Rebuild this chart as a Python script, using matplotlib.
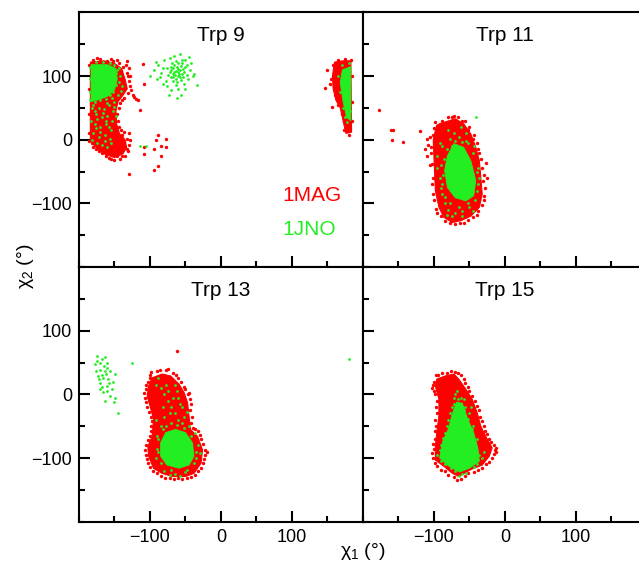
import matplotlib.pyplot as plt
from matplotlib.ticker import MultipleLocator

plt.rcParams['font.family'] = ['Liberation Sans', 'DejaVu Sans']

RED = '#ff0000'
GREEN = '#22ee22'

# ---- Trp 9 : chi1/chi2 outlines of the dense regions and the loose points ----
trp9_red_fill = [
    [(-184, 122), (-165, 124), (-150, 120), (-140, 112), (-135, 95), (-132, 80),
     (-138, 70), (-145, 60), (-148, 45), (-147, 25), (-143, 10), (-135, 0),
     (-133, -12), (-138, -22), (-150, -28), (-165, -22), (-178, -10), (-184, 0)],
    [(160, 122), (172, 124), (183, 124), (184, 12), (176, 10), (172, 30),
     (168, 50), (162, 62), (158, 80), (157, 100)],
]
trp9_red_pts = [
    (-186, 118), (-180, 126), (-170, 127), (-160, 124), (-152, 123), (-143, 120),
    (-138, 115), (-133, 105), (-130, 92), (-128, 85), (-131, 74), (-136, 66),
    (-142, 58), (-146, 40), (-144, 20), (-140, 8), (-133, 2), (-129, -8),
    (-131, -18), (-135, -25), (-142, -30), (-150, -32), (-158, -28), (-168, -20),
    (-176, -15), (-182, -5), (-186, 10), (-186, 40), (-186, 80), (-124, 70),
    (-120, 64), (-117, 62), (-110, 119), (-109, 88), (-123, 67), (-114, 46),
    (-128, -1), (-109, -11), (-109, -23), (-95, -14), (-85, -9), (-88, 8),
    (-78, 2), (-78, -12), (-84, -25), (-89, -41), (-95, -48), (-129, -54),
    (-92, -1),
    (-134, 118), (-131, 100), (-129, 112), (-136, 88), (-140, 95), (-127, 78),
    (-139, 62), (-143, 50), (-149, 35), (-145, 30), (-141, 15), (-137, -5),
    (-132, -14), (-139, -26), (-146, -25), (-155, -30), (-162, -25), (-172, -17),
    (-180, -12), (-186, -2), (-145, -20), (-128, 100), (-132, 124), (-175, 128),
    (-155, 127), (-147, 125), (-141, 108), (-144, 80), (-148, 70), (-150, 50),
    (-151, 28), (-148, 18), (-130, 10), (-137, 12),
    (146, 81), (156, 52), (150, 110), (155, 95), (158, 118), (165, 126),
    (175, 127), (183, 126), (185, 100), (185, 60), (185, 30), (180, 8),
    (174, 15), (170, 40), (165, 55), (160, 70), (154, 88),
]
trp9_green_fill = [
    [(-183, 118), (-160, 118), (-148, 112), (-146, 95), (-150, 78), (-160, 68),
     (-175, 62), (-183, 60)],
    [(171, 110), (183, 115), (183, 30), (177, 35), (172, 60), (168, 90)],
]
trp9_green_pts = [
    (-180, 55), (-172, 50), (-165, 48), (-158, 55), (-176, 40), (-168, 35),
    (-160, 38), (-152, 45), (-178, 25), (-170, 20), (-162, 25), (-155, 15),
    (-180, 10), (-172, 5), (-164, 8), (-157, 2), (-175, -5), (-150, 60),
    (-145, 70), (-142, 100), (-140, 85), (-168, -8), (-160, -12), (-154, 30),
    (-183, 30), (-148, 105), (-185, 115), (-114, -9), (-106, -10),
    (-150, 118), (-146, 110), (-144, 90), (-148, 86), (-152, 75), (-156, 70),
    (-162, 64), (-170, 62), (-178, 60), (-184, 62), (-184, 75), (-184, 95),
    (-176, 122), (-166, 122), (-156, 121), (-182, 50), (-178, 45), (-174, 32),
    (-166, 42), (-162, 30), (-158, 20), (-150, 52), (-148, 38), (-170, 12),
    (-176, 18), (-182, 0), (-164, -2), (-155, -5), (-160, 58), (-153, 65),
    (-143, 112), (-141, 76),
    # second rotamer around (-62, 105)
    (-70, 110), (-67, 112), (-64, 108), (-61, 106), (-58, 110), (-55, 104),
    (-60, 100), (-65, 102), (-68, 104), (-72, 106), (-62, 114), (-57, 116),
    (-66, 117), (-70, 115), (-54, 111), (-52, 107), (-58, 98), (-63, 96),
    (-68, 98), (-74, 101), (-60, 120), (-55, 120), (-50, 114), (-48, 102),
    (-76, 112), (-64, 124), (-69, 121), (-61, 111), (-59, 104), (-66, 107),
    (-71, 99), (-53, 99), (-56, 94), (-62, 91), (-67, 93),
    (-100, 100), (-95, 110), (-90, 95), (-88, 118), (-84, 105), (-82, 88),
    (-80, 125), (-78, 92), (-76, 85), (-72, 128), (-70, 78), (-66, 132),
    (-64, 86), (-60, 80), (-58, 135), (-55, 126), (-52, 88), (-50, 125),
    (-48, 118), (-46, 95), (-44, 110), (-42, 120), (-40, 100), (-38, 104),
    (-34, 86), (-86, 99), (-92, 122), (-73, 71), (-57, 70), (-62, 66),
    (-50, 80), (-45, 130), (-81, 113),
    (165, 100), (168, 75), (172, 50), (175, 35), (178, 28), (182, 45),
    (170, 118), (180, 120),
]

# ---- Trp 11 ----
trp11_red_fill = [
    [(-96, 23), (-84, 28), (-70, 33), (-58, 25), (-48, 9), (-41, -12),
     (-36, -33), (-34, -59), (-32, -85), (-36, -106), (-48, -120), (-62, -127),
     (-74, -130), (-86, -122), (-93, -106), (-98, -80), (-99, -54), (-100, -27),
     (-101, -1), (-98, 15)],
]
trp11_red_pts = [
    (-104, -20), (-106, -40), (-103, -70), (-100, -95), (-95, -115), (-85, -128),
    (-70, -133), (-58, -130), (-45, -122), (-38, -112), (-30, -95), (-28, -75),
    (-30, -55), (-34, -30), (-38, -15), (-45, 2), (-52, 15), (-60, 30),
    (-66, 36), (-75, 35), (-88, 30), (-100, 18), (-105, 5), (-108, -8),
    (-98, 28), (-92, 24), (-80, 36), (-72, 38), (-56, 30), (-50, 20),
    (-44, 8), (-40, -5), (-36, -20), (-33, -45), (-31, -65), (-29, -88),
    (-33, -102), (-40, -118), (-52, -126), (-64, -131), (-78, -131), (-90, -120),
    (-97, -108), (-101, -85), (-102, -60), (-103, -38), (-104, -12), (-102, 8),
    (-110, 2), (-112, -15), (-25, -60),
    (-178, 46), (-160, 16), (-157, 15), (-159, -1), (-143, -4), (-119, 13),
    (-110, -25), (-27, -37),
]
trp11_green_fill = [
    [(-72, -6), (-58, -12), (-48, -33), (-41, -64), (-44, -88), (-55, -96),
     (-70, -91), (-81, -75), (-85, -48), (-81, -25)],
]
trp11_green_pts = [
    (-90, -40), (-92, -60), (-88, -85), (-85, -100), (-80, -110), (-70, -115),
    (-60, -112), (-50, -105), (-42, -95), (-38, -70), (-40, -50), (-45, -20),
    (-55, -2), (-65, 5), (-78, 2), (-88, -10), (-95, -25), (-75, -120),
    (-88, -70), (-36, -60), (-62, 20), (-80, 15), (-41, 35),
    (-86, -30), (-87, -55), (-90, -75), (-84, -90), (-78, -100), (-65, -105),
    (-52, -100), (-40, -80), (-38, -45), (-44, -10), (-52, -5), (-60, -3),
    (-70, -2), (-75, -10), (-82, -15), (-72, 10), (-55, 10), (-92, -5),
    (-82, -118), (-60, -120), (-45, -112), (-95, -45),
]

# ---- Trp 13 ----
trp13_red_fill = [
    [(-97, 26), (-83, 32), (-71, 29), (-59, 16), (-52, 3), (-47, -13),
     (-45, -34), (-43, -55), (-33, -66), (-26, -87), (-28, -108), (-38, -124),
     (-50, -129), (-69, -129), (-83, -124), (-95, -116), (-102, -97),
     (-103, -82), (-97, -66), (-95, -39), (-100, -18), (-104, -3), (-102, 13)],
]
trp13_red_pts = [
    (-100, 30), (-90, 36), (-78, 38), (-68, 34), (-60, 25), (-52, 12),
    (-46, 0), (-42, -15), (-41, -35), (-40, -52), (-32, -58), (-28, -70),
    (-22, -88), (-24, -102), (-28, -115), (-36, -126), (-48, -132), (-60, -131),
    (-72, -132), (-85, -128), (-96, -120), (-103, -108), (-106, -95),
    (-106, -80), (-100, -65), (-98, -50), (-99, -35), (-104, -20), (-107, -5),
    (-106, 8), (-103, 20), (-62, 68), (-20, -90), (-45, 2),
    (-98, 35), (-86, 39), (-74, 40), (-64, 30), (-56, 20), (-50, 8),
    (-44, -8), (-43, -25), (-42, -45), (-36, -55), (-30, -64), (-25, -78),
    (-23, -95), (-26, -108), (-32, -120), (-42, -130), (-55, -133), (-66, -133),
    (-79, -131), (-90, -124), (-100, -114), (-104, -102), (-107, -88),
    (-103, -72), (-98, -58), (-97, -42), (-101, -28), (-105, -12), (-108, 2),
    (-105, 15), (-100, 25),
]
trp13_green_fill = [
    [(-78, -60), (-64, -55), (-50, -60), (-40, -76), (-38, -97), (-45, -111),
     (-59, -116), (-76, -111), (-85, -97), (-85, -76)],
]
trp13_green_pts = [
    (-85, 10), (-80, 0), (-75, -10), (-70, -20), (-65, -30), (-60, -40),
    (-55, -45), (-70, -45), (-80, -35), (-85, -50), (-75, 5), (-65, 15),
    (-55, -20), (-60, -5), (-90, -85), (-92, -100), (-80, -120), (-65, -125),
    (-50, -122), (-35, -100), (-32, -80), (-36, -60), (-45, -50), (-88, 25),
    (-70, -60), (-90, -65),
    (-82, -55), (-88, -70), (-78, -50), (-52, -52), (-42, -66), (-35, -90),
    (-38, -108), (-48, -118), (-70, -118), (-84, -108), (-88, -90), (-62, -48),
    (-72, -30), (-82, -20), (-68, -5), (-58, -15), (-52, -35), (-78, 15),
    (-92, 15), (-62, 5), (-48, -28), (-92, -40), (-30, -92), (-58, -128),
    (-72, -126),
    # small gauche+ population near chi1 = -165
    (-175, 60), (-168, 55), (-161, 50), (-178, 47), (-171, 39), (-164, 37),
    (-173, 29), (-166, 26), (-159, 24), (-149, 32), (-171, 18), (-161, 13),
    (-154, 8), (-166, 3), (-156, -3), (-149, -5), (-164, -11), (-145, -29),
    (-126, 49), (-170, 50), (-165, 44), (-176, 36), (-160, 42), (-168, 31),
    (-162, 32), (-172, 24), (-158, 18), (-167, 12), (-174, 52), (-163, 58),
    (-156, 36), (-152, 20), (-160, 5), (-151, -12), (-170, 8), (180, 56),
]

# ---- Trp 15 ----
trp15_red_fill = [
    [(-96, 24), (-84, 29), (-72, 32), (-65, 24), (-55, 8), (-46, -8),
     (-39, -29), (-34, -50), (-27, -66), (-18, -84), (-22, -97), (-32, -111),
     (-48, -118), (-65, -129), (-74, -124), (-86, -113), (-98, -103),
     (-98, -82), (-96, -60), (-93, -34), (-93, -8), (-98, 13)],
]
trp15_red_pts = [
    (-100, 20), (-94, 30), (-82, 33), (-70, 35), (-62, 30), (-56, 18),
    (-50, 5), (-42, -10), (-36, -25), (-32, -42), (-28, -58), (-22, -70),
    (-16, -80), (-14, -88), (-18, -100), (-26, -110), (-38, -118), (-52, -124),
    (-62, -133), (-72, -130), (-85, -120), (-95, -112), (-101, -100),
    (-100, -85), (-99, -70), (-97, -50), (-96, -30), (-96, -10), (-100, 5),
    (-102, 15),
    (-97, 30), (-88, 34), (-76, 36), (-66, 33), (-58, 24), (-52, 12),
    (-46, -2), (-40, -18), (-35, -35), (-30, -50), (-25, -62), (-19, -74),
    (-13, -84), (-16, -94), (-22, -106), (-32, -116), (-44, -122), (-56, -128),
    (-68, -134), (-80, -126), (-90, -118), (-98, -108), (-103, -92),
    (-101, -78), (-99, -58), (-98, -40), (-97, -20), (-98, 0), (-103, 10),
    (-12, -90),
]
trp15_green_fill = [
    [(-68, -12), (-60, -14), (-52, -40), (-44, -60), (-38, -85), (-36, -105),
     (-50, -116), (-64, -122), (-80, -112), (-92, -100), (-88, -75),
     (-80, -55), (-74, -30)],
]
trp15_green_pts = [
    (-70, 0), (-62, -5), (-75, -20), (-58, -25), (-80, -40), (-50, -30),
    (-85, -60), (-45, -50), (-90, -80), (-40, -70), (-95, -95), (-30, -90),
    (-85, -110), (-70, -120), (-55, -124), (-40, -110), (-65, -128), (-68, 5),
    (-66, -8), (-62, -15), (-72, -15), (-56, -20), (-78, -30), (-52, -38),
    (-82, -50), (-46, -55), (-87, -68), (-42, -75), (-92, -88), (-36, -95),
    (-90, -105), (-76, -115), (-60, -125), (-44, -114), (-33, -100), (-72, -5),
    (-58, -8), (-48, -20),
]

panels = [
    ("Trp 9", trp9_red_fill, trp9_red_pts, trp9_green_fill, trp9_green_pts),
    ("Trp 11", trp11_red_fill, trp11_red_pts, trp11_green_fill, trp11_green_pts),
    ("Trp 13", trp13_red_fill, trp13_red_pts, trp13_green_fill, trp13_green_pts),
    ("Trp 15", trp15_red_fill, trp15_red_pts, trp15_green_fill, trp15_green_pts),
]

fig = plt.figure(figsize=(6.39, 5.69), dpi=100)

lefts = [0.1236, 0.568]
bottoms = [0.5306, 0.0831]
w, h = 0.4444, 0.4475

for i, (title, red_fill, red_pts, green_fill, green_pts) in enumerate(panels):
    row, col = divmod(i, 2)
    ax = fig.add_axes([lefts[col], bottoms[row], w, h])

    for poly in red_fill:
        xs, ys = zip(*poly)
        ax.fill(xs, ys, color=RED, lw=0.8, zorder=1)
    xs, ys = zip(*red_pts)
    ax.scatter(xs, ys, s=6, color=RED, lw=0, zorder=2)
    for poly in green_fill:
        xs, ys = zip(*poly)
        ax.fill(xs, ys, color=GREEN, lw=0.6, zorder=3)
    xs, ys = zip(*green_pts)
    ax.scatter(xs, ys, s=4, color=GREEN, lw=0, zorder=4)

    ax.set_xlim(-200, 200)
    ax.set_ylim(-200, 200)
    ax.xaxis.set_minor_locator(MultipleLocator(50))
    ax.yaxis.set_minor_locator(MultipleLocator(50))
    ax.tick_params(which='both', direction='in', width=1.5, labelsize=13,
                   top=False, right=False)
    ax.tick_params(which='major', length=8, pad=5)
    ax.tick_params(which='minor', length=4.5)
    ax.set_xticks([-100, 0, 100])
    ax.set_yticks([-100, 0, 100])
    ax.set_xticklabels(['\u2212100', '0', '100'])
    ax.set_yticklabels(['\u2212100', '0', '100'])
    if row == 0:
        ax.tick_params(labelbottom=False)
    if col == 1:
        ax.tick_params(labelleft=False)
    for sp in ax.spines.values():
        sp.set_linewidth(1.5)

    ax.text(0.5, 0.91, title, transform=ax.transAxes, ha='center',
            va='center', fontsize=15)

    if i == 0:
        ax.text(0.718, 0.28, '1MAG', transform=ax.transAxes, color=RED,
                fontsize=15, va='center')
        ax.text(0.718, 0.148, '1JNO', transform=ax.transAxes, color=GREEN,
                fontsize=15, va='center')

fig.text(0.04, 0.532, r'$\mathregular{\chi_2}$ (°)', rotation=90,
         ha='center', va='center', fontsize=14)
fig.text(0.568, 0.03, r'$\mathregular{\chi_1}$ (°)', ha='center',
         va='center', fontsize=14)

fig.savefig('out.png', dpi=100)
